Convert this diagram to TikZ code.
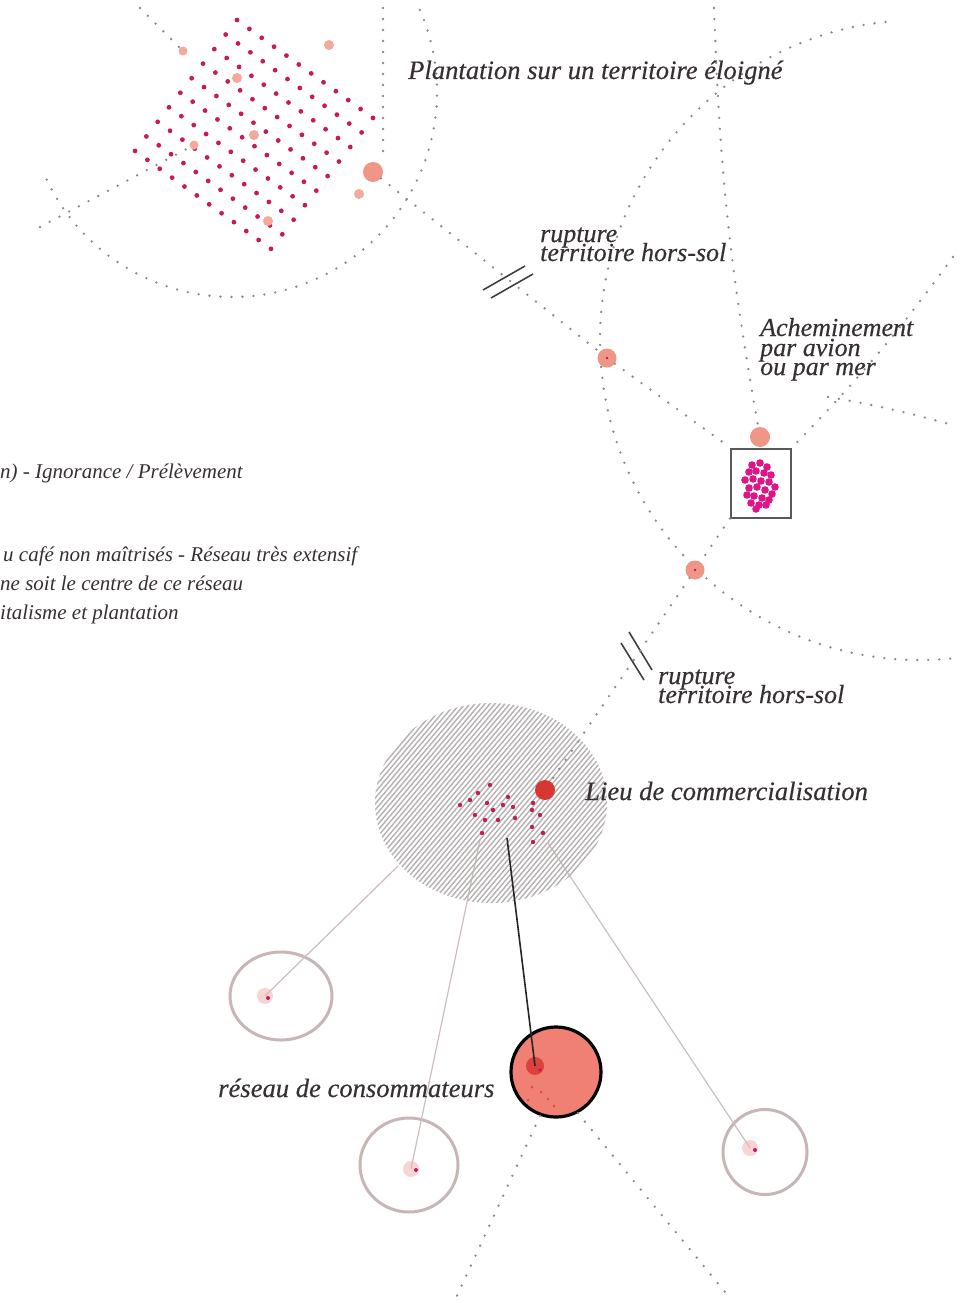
\documentclass[tikz,border=0pt]{standalone}
\usepackage{fontspec}
\setmainfont{Liberation Serif}
\newfontfamily\labfont{Liberation Serif}[FakeBold=0.35]
\usetikzlibrary{shapes.geometric,calc}
\definecolor{dotgray}{RGB}{140,137,137}
\definecolor{salmon}{RGB}{240,150,135}
\definecolor{lsalmon}{RGB}{243,170,152}
\definecolor{crim}{RGB}{200,25,90}
\definecolor{magent}{RGB}{225,20,135}
\definecolor{redd}{RGB}{215,55,50}
\definecolor{bigfill}{RGB}{240,128,115}
\definecolor{ringcol}{RGB}{200,182,182}
\definecolor{pale}{RGB}{250,212,212}
\definecolor{txt}{RGB}{55,48,50}
\definecolor{hatchc}{RGB}{182,177,177}
\definecolor{linec}{RGB}{205,190,190}
\begin{document}
\begin{tikzpicture}[x=1pt,y=-1pt,
  dotline/.style={draw=dotgray, line width=2.6pt, line cap=round, dash pattern=on 0pt off 11pt},
  saldot/.style={circle, fill=lsalmon, inner sep=0pt, minimum size=#1},
  pathdot/.style={circle, fill=salmon, inner sep=0pt, minimum size=#1},
  slashline/.style={draw=black!75, line width=1.6pt},
  ring/.style={ellipse, draw=ringcol, line width=3pt, inner sep=0pt},
  paledot/.style={circle, fill=pale, inner sep=0pt, minimum size=16},
  thinline/.style={draw=linec, line width=1.2pt},
  lab/.style={font=\labfont\fontsize{26}{26}\selectfont\itshape, text=txt, inner sep=0pt, anchor=base west},
  biglab/.style={font=\labfont\fontsize{26.6}{26}\selectfont\itshape, text=txt, inner sep=0pt, anchor=base west},
  sidelab/.style={font=\fontsize{21}{21}\selectfont\itshape, text=txt, inner sep=0pt, anchor=base west}
]
\useasboundingbox (0,0) rectangle (969,1303);
\fill[white] (0,0) rectangle (969,1303);

% ---------- plantation grid ----------
\foreach \i in {0,...,11}
  \foreach \j in {0,...,9}
    \fill[crim] ({237+12.36*\i-11.33*\j},{20+8.9*\i+14.55*\j}) circle (2.4);

% salmon dots in plantation
\node[saldot=9]  (s1) at (183,51) {};
\node[saldot=10] (s2) at (329,45) {};
\node[saldot=10] (s3) at (237,78) {};
\node[saldot=10] (s4) at (254,135) {};
\node[saldot=9]  (s5) at (194,145) {};
\node[pathdot=20] (p1) at (373,172) {};
\node[saldot=10] (s6) at (359,194) {};
\node[saldot=10] (s7) at (268,221) {};

% ---------- dotted network ----------
\coordinate (t1) at (140,8);
\coordinate (t2) at (40,227);
\coordinate (t3) at (383,8);
\coordinate (t4) at (383,160);
\coordinate (t5) at (714,8);
\coordinate (t6) at (953,257);
\coordinate (t7) at (828,397);
\coordinate (t8) at (956,426);

\draw[dotline] (232,92) ++(-23.6:205) arc[start angle=-23.6, end angle=155.4, radius=205];
\draw[dotline] (920,340) ++(263.8:320) arc[start angle=263.8, end angle=84, radius=320];
\draw[dotline] (t1) -- (s1);
\draw[dotline] (t2) -- (s5);
\draw[dotline] (t3) -- (t4);

\node[pathdot=19] (r1) at (607,358) {};
\node[pathdot=19] (r2) at (695,570) {};
\node[pathdot=20] (dtop) at (760,437) {};
\node[draw=black!65, line width=2pt, minimum width=60, minimum height=69, inner sep=0pt] (box) at (761,483) {};

\draw[dotline] (p1) -- (r1);
\draw[dotline] (r1) -- (box.north west);
\draw[dotline] (t5) to[bend right=4] (dtop);
\draw[dotline] (t6) to[bend left=4] (box.north east);
\draw[dotline] (t7) to[bend left=3] (t8);
\draw[dotline] (box.south west) -- (r2);

% small dots of nodes
\fill[crim] (r1) circle (1.3);
\fill[crim] (r2) circle (1.3);

% magenta cluster in box
\foreach \p in {(752,465),(760,463),(767,467),(749,472),(756,471),(764,473),(771,475),(745,480),(753,479),(761,481),(769,482),(775,487),(749,488),(757,487),(765,490),(772,494),(747,495),(754,496),(762,498),(769,500),(751,503),(759,505),(766,505),(756,509)}
  \fill[magent] \p circle (3.8);

% slash marks
\coordinate (a1) at (483,290); \coordinate (a2) at (525,266);
\coordinate (a3) at (491,298); \coordinate (a4) at (533,274);
\draw[slashline] (a1) -- (a2);
\draw[slashline] (a3) -- (a4);
\coordinate (b1) at (629,632); \coordinate (b2) at (652,670);
\coordinate (b3) at (621,643); \coordinate (b4) at (644,680);
\draw[slashline] (b1) -- (b2);
\draw[slashline] (b3) -- (b4);

% ---------- consumers ----------
\node[ring, minimum width=102, minimum height=88] (c1) at (281,996) {};
\node[ring, minimum width=98, minimum height=94] (c2) at (409,1165) {};
\node[ring, minimum width=84, minimum height=85] (c4) at (765,1152) {};
\node[paledot] (d1) at (265,996) {};
\node[paledot] (d2) at (411,1169) {};
\node[paledot] (d4) at (750,1148) {};
\coordinate (e1) at (398,866);
\coordinate (e2) at (480,840);
\coordinate (e3) at (507,838);
\coordinate (e4) at (548,843);
\draw[thinline] (e1) -- (d1.center);
\draw[thinline] (e2) -- (d2.center);
\draw[thinline] (e4) -- (d4.center);
\fill[crim] (268,998) circle (2);
\fill[crim] (416,1170) circle (2);
\fill[crim] (755,1150) circle (2);

% hatched market place
\node[ellipse, minimum width=232, minimum height=200, inner sep=0pt] (market) at (491,803) {};
\begin{scope}
  \clip (491,803) ellipse [x radius=116, y radius=100];
  \foreach \k in {-240,-235,...,240}
    \draw[hatchc, line width=1.4pt] ({491+\k-110},{803+130}) -- ({491+\k+110},{803-130});
\end{scope}
\node[circle, fill=redd, inner sep=0pt, minimum size=20] (red) at (545,790) {};
\draw[dotline] (r2) -- (red);

% market dots
\foreach \p in {(460,805),(478,793),(490,785),(475,815),(487,803),(493,810),(503,805),(508,797),(513,807),(485,820),(498,820),(515,818),(533,803),(532,810),(540,815),(482,833),(532,827),(543,833),(533,842),(470,800)}
  \fill[crim] \p circle (2.2);

\node[circle, fill=bigfill, draw=black, line width=3.2pt, minimum size=90, inner sep=0pt] (big) at (556,1072) {};
\node[circle, fill=redd!85!bigfill, inner sep=0pt, minimum size=18] (bigin) at (535,1066) {};
\draw[draw=black!85, line width=1.6pt] (e3) -- (bigin.center);
\fill[crim] (540,1070) circle (1.8);
\foreach \p in {(532,1087),(541,1092),(548,1099),(528,1100),(554,1106)}
  \fill[redd!70!bigfill] \p circle (1.5);

\coordinate (f1) at (455,1300);
\coordinate (f2) at (730,1298);
\draw[dotline] (big.250) -- (f1);
\draw[dotline] (big.298) -- (f2);

% ---------- texts ----------
\node[biglab] (tplant) at (408,79) {Plantation sur un territoire éloigné};
\node[lab] (trup1a) at (540,242) {rupture};
\node[lab] (trup1b) at (540,261) {territoire hors-sol};
\node[lab] (tach1) at (760,336) {Acheminement};
\node[lab] (tach2) at (760,356) {par avion};
\node[lab] (tach3) at (760,375) {ou par mer};
\node[lab] (trup2a) at (658,684) {rupture};
\node[lab] (trup2b) at (658,703) {territoire hors-sol};
\node[biglab] (tlieu) at (585,800) {Lieu de commercialisation};
\node[biglab] (tres) at (218,1097) {réseau de consommateurs};

\node[sidelab] (side1) at (0,478) {n) - Ignorance / Prélèvement};
\node[sidelab] (side2) at (3,561) {u café non maîtrisés - Réseau très extensif};
\node[sidelab] (side3) at (0,590) {ne soit le centre de ce réseau};
\node[sidelab] (side4) at (0,619) {italisme et plantation};
\end{tikzpicture}
\end{document}
